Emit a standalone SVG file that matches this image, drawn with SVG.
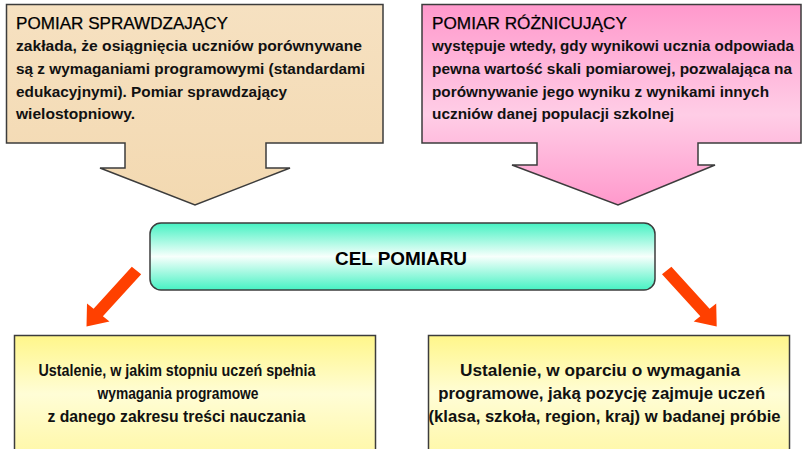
<svg xmlns="http://www.w3.org/2000/svg" width="802" height="449" viewBox="0 0 802 449">
  <defs>
    <linearGradient id="gTan" x1="0" y1="0" x2="0" y2="1">
      <stop offset="0" stop-color="#F6E1C1"/>
      <stop offset="1" stop-color="#F3D9B1"/>
    </linearGradient>
    <linearGradient id="gPink" x1="0" y1="0" x2="0" y2="1">
      <stop offset="0" stop-color="#FF99CC"/>
      <stop offset="0.55" stop-color="#FFCDE6"/>
      <stop offset="1" stop-color="#FF99CC"/>
    </linearGradient>
    <linearGradient id="gTeal" x1="0" y1="0" x2="0" y2="1">
      <stop offset="0" stop-color="#46F2C3"/>
      <stop offset="0.5" stop-color="#F7FFFC"/>
      <stop offset="1" stop-color="#46F2C3"/>
    </linearGradient>
    <linearGradient id="gYellow" x1="0" y1="0" x2="0" y2="1">
      <stop offset="0" stop-color="#FFF68A"/>
      <stop offset="0.45" stop-color="#FFFDD6"/>
      <stop offset="1" stop-color="#FFF7A0"/>
    </linearGradient>
    <style>
      .shape { stroke: #3C3C3C; stroke-width: 1.5; stroke-linejoin: miter; }
      .title { font-family: "Liberation Sans", Arial, sans-serif; font-size: 17px; fill: #000; stroke: #000; stroke-width: 0.25; }
      .body { font-family: "Liberation Sans", Arial, sans-serif; font-size: 15px; font-weight: bold; fill: #111; }
      .low { font-family: "Liberation Sans", Arial, sans-serif; font-size: 17px; font-weight: bold; fill: #111; text-anchor: middle; }
      .main { font-family: "Liberation Sans", Arial, sans-serif; font-size: 19px; font-weight: bold; fill: #000; text-anchor: middle; }
      .arrow { fill: #FF4000; }
    </style>
  </defs>
  <rect width="802" height="449" fill="#FFFFFF"/>

  <g id="pomiar-sprawdzajacy">
    <polygon class="shape" fill="url(#gTan)" points="6.5,4.5 383,4.5 383,143 266,143 266,168 290,168 195,205 100,168 125,168 125,143 6.5,143"/>
    <text class="title" x="16" y="28.5" textLength="212" lengthAdjust="spacingAndGlyphs">POMIAR  SPRAWDZAJĄCY</text>
    <text class="body" x="16" y="51" textLength="346" lengthAdjust="spacingAndGlyphs">zakłada, że osiągnięcia uczniów porównywane</text>
    <text class="body" x="16" y="74" textLength="349" lengthAdjust="spacingAndGlyphs">są z wymaganiami programowymi (standardami</text>
    <text class="body" x="16" y="96.5" textLength="271" lengthAdjust="spacingAndGlyphs">edukacyjnymi). Pomiar sprawdzający</text>
    <text class="body" x="16" y="119" textLength="119" lengthAdjust="spacingAndGlyphs">wielostopniowy.</text>
  </g>

  <g id="pomiar-roznicujacy">
    <polygon class="shape" fill="url(#gPink)" points="422,4.5 801,4.5 801,143 698,143 698,165 715,165 618,205 512,165 537,165 537,143 422,143"/>
    <text class="title" x="432" y="28.5" textLength="195" lengthAdjust="spacingAndGlyphs">POMIAR  RÓŻNICUJĄCY</text>
    <text class="body" x="432" y="51" textLength="362" lengthAdjust="spacingAndGlyphs">występuje wtedy, gdy wynikowi ucznia odpowiada</text>
    <text class="body" x="432" y="74" textLength="360" lengthAdjust="spacingAndGlyphs">pewna wartość skali pomiarowej, pozwalająca na</text>
    <text class="body" x="432" y="96.5" textLength="337" lengthAdjust="spacingAndGlyphs">porównywanie jego wyniku z wynikami innych</text>
    <text class="body" x="432" y="119" textLength="242" lengthAdjust="spacingAndGlyphs">uczniów danej populacji szkolnej</text>
  </g>

  <g id="cel-pomiaru">
    <rect class="shape" fill="url(#gTeal)" x="150" y="223" width="505" height="67" rx="11" ry="11"/>
    <text class="main" x="401" y="265" textLength="132" lengthAdjust="spacingAndGlyphs">CEL POMIARU</text>
  </g>

  <g id="ustalenie-sprawdzajacy">
    <rect class="shape" fill="url(#gYellow)" x="14.5" y="335.5" width="361" height="130"/>
    <text class="low" x="177" y="375.5" textLength="277" lengthAdjust="spacingAndGlyphs">Ustalenie, w jakim stopniu uczeń spełnia</text>
    <text class="low" x="178" y="398.5" textLength="161" lengthAdjust="spacingAndGlyphs">wymagania programowe</text>
    <text class="low" x="176.5" y="421.5" textLength="258" lengthAdjust="spacingAndGlyphs">z danego zakresu treści nauczania</text>
  </g>

  <g id="ustalenie-roznicujacy">
    <rect class="shape" fill="url(#gYellow)" x="428.5" y="335.5" width="361" height="130"/>
    <text class="low" x="600" y="375.5" textLength="280" lengthAdjust="spacingAndGlyphs">Ustalenie, w oparciu o wymagania</text>
    <text class="low" x="601.7" y="398.5" textLength="327" lengthAdjust="spacingAndGlyphs">programowe, jaką pozycję zajmuje uczeń</text>
    <text class="low" x="604.5" y="421.5" textLength="352" lengthAdjust="spacingAndGlyphs">(klasa, szkoła, region, kraj) w badanej próbie</text>
  </g>

  <g id="connectors">
    <polygon class="arrow" points="131.8,266.75 141.2,274.25 102.9,316.25 109.5,321.5 86.5,326.5 87,303.5 93.6,308.75"/>
    <polygon class="arrow" points="671.4,266.75 662,274.25 700.3,316.25 693.7,321.5 716.7,326.5 716.2,303.5 709.6,308.75"/>
  </g>
</svg>
